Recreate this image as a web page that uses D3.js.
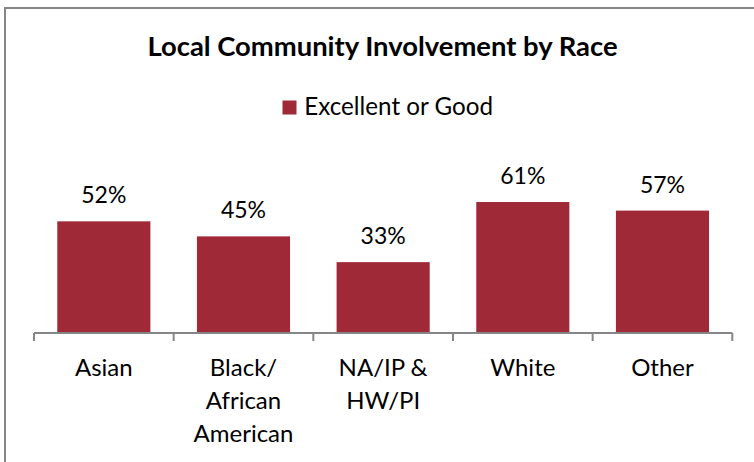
<!DOCTYPE html>
<html>
<head>
<meta charset="utf-8">
<script src="https://cdn.jsdelivr.net/npm/d3@7"></script>
<style>
html,body{margin:0;padding:0;background:#fff;}
svg{display:block;}
text{font-family:Lato,"Open Sans",sans-serif;fill:#000;}
</style>
</head>
<body>
<svg id="chart" width="754" height="462"></svg>
<script>
const title = "Local Community Involvement by Race";
const seriesName = "Excellent or Good";
const categories = ["Asian", "Black/\nAfrican\nAmerican", "NA/IP &\nHW/PI", "White", "Other"];
const values = [52, 45, 33, 61, 57];

const W = 754, H = 462;
const svg = d3.select("#chart");
const barColor = "#9f2937";
const axisColor = "#868686";

// outer border (extends past the picture on right and bottom)
svg.append("rect")
  .attr("x", 5).attr("y", 8).attr("width", 900).attr("height", 600)
  .attr("fill", "none").attr("stroke", axisColor).attr("stroke-width", 2);

const x = d3.scaleBand().domain(categories).range([34, 732.3])
  .paddingInner(1/3).paddingOuter(1/6);
const y = d3.scaleLinear().domain([0, 70]).range([333, 182.7]);

// title
svg.append("text").attr("x", 382.5).attr("y", 56)
  .attr("text-anchor", "middle").attr("font-weight", "bold")
  .attr("font-size", 27.4).text(title);

// legend
const lg = svg.append("g");
lg.append("rect").attr("x", 282.5).attr("y", 100.5).attr("width", 14).attr("height", 14).attr("fill", barColor);
lg.append("text").attr("x", 304.3).attr("y", 115).attr("font-size", 24.2).text(seriesName);

// bars
svg.append("g").selectAll("rect").data(values).join("rect")
  .attr("x", (d, i) => x(categories[i]))
  .attr("width", x.bandwidth())
  .attr("y", d => y(d))
  .attr("height", d => y(0) - y(d))
  .attr("fill", barColor);

// data labels
svg.append("g").selectAll("text").data(values).join("text")
  .attr("x", (d, i) => x(categories[i]) + x.bandwidth() / 2)
  .attr("y", d => y(d) - 18)
  .attr("text-anchor", "middle")
  .attr("font-size", 23)
  .text(d => d + "%");

// axis
const axis = d3.axisBottom(x).tickSize(0).tickFormat("");
const ag = svg.append("g").attr("transform", `translate(0,${y(0)})`).call(axis);
ag.select(".domain").attr("stroke", axisColor).attr("stroke-width", 2)
  .attr("d", `M${x.range()[0]},0H${x.range()[1]}`);
// category boundary ticks
const bounds = categories.map(c => x(c) - x.step() * x.paddingInner() / 2)
  .concat([x.range()[1]]);
ag.selectAll(".bnd").data(bounds).join("line").attr("class", "bnd")
  .attr("x1", d => d).attr("x2", d => d)
  .attr("y1", 0).attr("y2", 8)
  .attr("stroke", axisColor).attr("stroke-width", 2);

// category labels
const cl = svg.append("g").selectAll("text").data(categories).join("text")
  .attr("x", d => x(d) + x.bandwidth() / 2)
  .attr("y", 376)
  .attr("text-anchor", "middle")
  .attr("font-size", 24);
cl.selectAll("tspan").data(d => d.split("\n")).join("tspan")
  .attr("x", function () { return d3.select(this.parentNode).attr("x"); })
  .attr("dy", (d, i) => i === 0 ? 0 : 32.8)
  .text(d => d);
</script>
</body>
</html>
